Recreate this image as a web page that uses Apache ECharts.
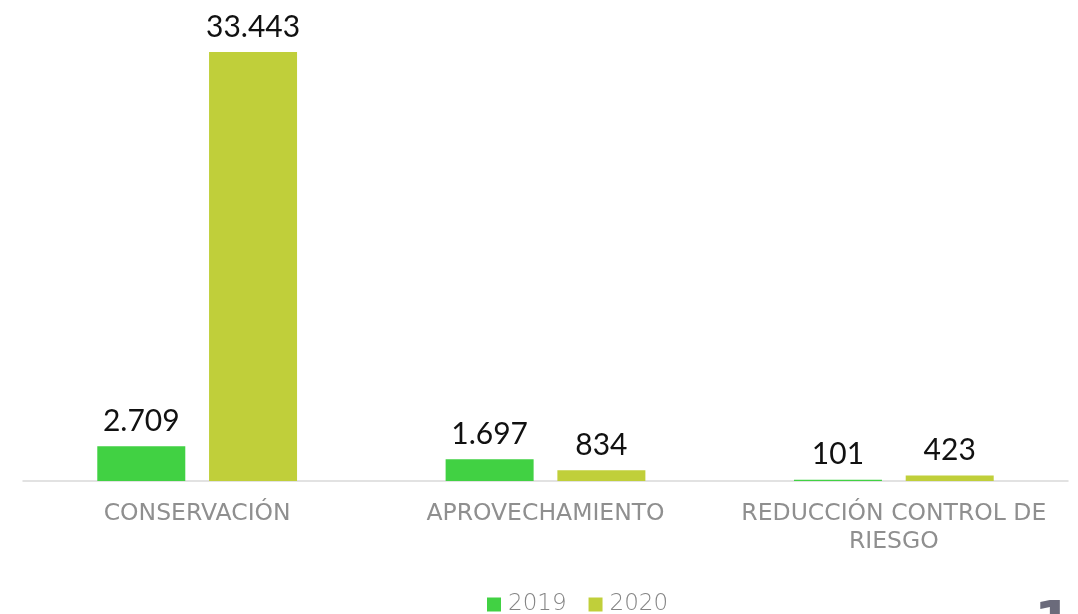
<!DOCTYPE html>
<html>
<head>
<meta charset="utf-8">
<script src="https://cdn.jsdelivr.net/npm/echarts@6/dist/echarts.min.js"></script>
<style>html,body{margin:0;padding:0;background:#fff;}#c{width:1078px;height:614px;}</style>
</head>
<body>
<div id="c"></div>
<script>
const categories = ['CONSERVACIÓN', 'APROVECHAMIENTO', 'REDUCCIÓN CONTROL DE\nRIESGO'];
const seriesNames = ['2019', '2020'];
const values2019 = [2709, 1697, 101];
const values2020 = [33443, 834, 423];

function fmt(v) {
  return String(v).replace(/\B(?=(\d{3})+(?!\d))/g, '.');
}
const FONT = 'Lato, "Open Sans", sans-serif';
const WIDE = '"DejaVu Sans", sans-serif';
const chart = echarts.init(document.getElementById('c'));
const labelCfg = {
  show: true, position: 'top', distance: 10,
  color: '#111', fontSize: 30, fontFamily: FONT,
  formatter: p => fmt(p.value)
};
chart.setOption({
  animation: false,
  grid: { left: 23, right: 10, top: 52, bottom: 133, containLabel: false },
  legend: {
    bottom: -7, left: 482, itemWidth: 14, itemHeight: 14, itemGap: 22,
    icon: 'rect',
    textStyle: { color: '#858585', fontSize: 23, fontFamily: WIDE, fontWeight: 'lighter', padding: [0, 0, 0, 2] },
    data: seriesNames
  },
  xAxis: {
    type: 'category', data: categories,
    axisLine: { lineStyle: { color: '#d9d9d9', width: 1.5 } },
    axisTick: { show: false },
    axisLabel: { color: '#8f8f8f', fontSize: 23.5, fontFamily: WIDE, margin: 19, lineHeight: 28, interval: 0 }
  },
  yAxis: {
    type: 'value', min: 0, max: 'dataMax',
    show: false, splitLine: { show: false }
  },
  series: [
    { name: seriesNames[0], type: 'bar', data: values2019, barWidth: 88, barGap: '27%',
      itemStyle: { color: '#41D143' }, label: labelCfg },
    { name: seriesNames[1], type: 'bar', data: values2020, barWidth: 88,
      itemStyle: { color: '#C0CF3A' }, label: labelCfg }
  ],
  graphic: [{
    type: 'text', right: 5, top: 597,
    style: { text: '1', font: 'bold 56px "DejaVu Sans", sans-serif', fill: '#6b6b7b' }
  }]
});
</script>
</body>
</html>
